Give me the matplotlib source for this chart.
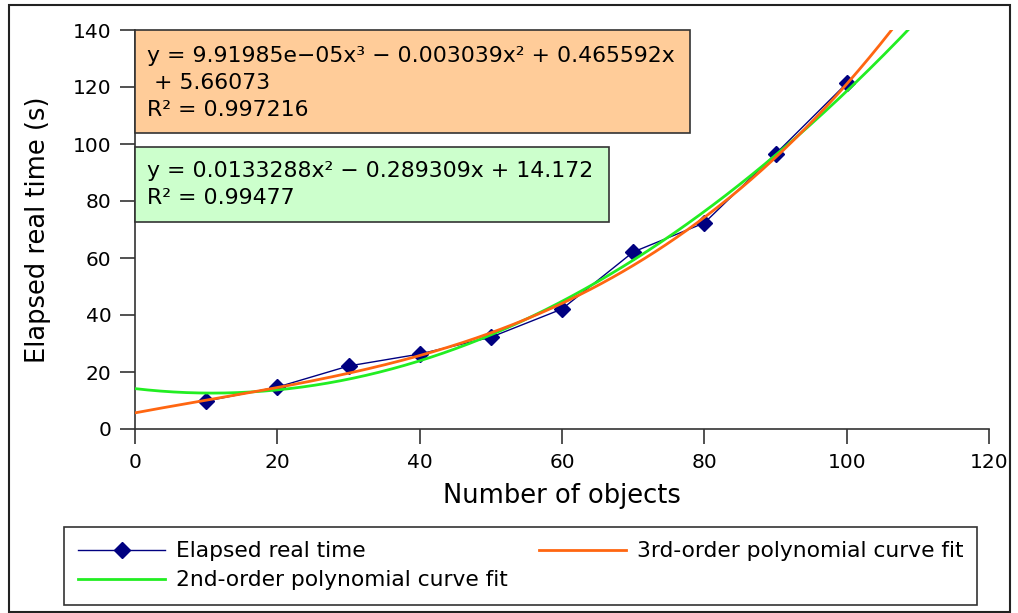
import matplotlib
matplotlib.use("Agg")
import matplotlib.pyplot as plt
import numpy as np
from matplotlib.patches import Rectangle

# datos
n_objetos = [10, 20, 30, 40, 50, 60, 70, 80, 90, 100]
tiempo_real = [9.8, 14.7, 22.1, 26.3, 32.2, 42.1, 62.1, 72.3, 96.5, 121.3]

# coeficientes de los ajustes (del texto de la figura)
coef_3 = [9.91985e-05, -0.003039, 0.465592, 5.66073]
coef_2 = [0.0133288, -0.289309, 14.172]

W, H = 1018, 613

def fx(px):
    return px / W

def fy(py):
    return 1 - py / H

plt.rcParams['font.family'] = ['DejaVu Sans']

fig = plt.figure(figsize=(W / 100, H / 100), dpi=100)
ax = fig.add_axes([fx(135), fy(429), fx(989) - fx(135), fy(30) - fy(429)])

x_fit = np.linspace(0, 120, 400)
h1, = ax.plot(n_objetos, tiempo_real, color='#000080', lw=1, marker='D', ms=8.5,
              label='Elapsed real time', zorder=3)
l2, = ax.plot(x_fit, np.polyval(coef_2, x_fit), color='#22ee22', lw=2,
              label='2nd-order polynomial curve fit', zorder=4)
l3, = ax.plot(x_fit, np.polyval(coef_3, x_fit), color='#ff6611', lw=2,
              label='3rd-order polynomial curve fit', zorder=4)

ax.set_xlim(0, 120)
ax.set_ylim(0, 140)
ax.set_xticks(range(0, 121, 20))
ax.set_yticks(range(0, 141, 20))
ax.spines['top'].set_visible(False)
ax.spines['right'].set_visible(False)
for s in ['left', 'bottom']:
    ax.spines[s].set_color('#333333')
    ax.spines[s].set_linewidth(1.2)
ax.tick_params(direction='out', length=11, width=1.2, color='#333333',
               labelsize=14.5, pad=6)
ax.set_xlabel('Number of objects', fontsize=18.5)
ax.set_ylabel('Elapsed real time (s)', fontsize=18.5)
ax.xaxis.set_label_coords(0.5, -0.135)
ax.yaxis.set_label_coords(-0.098, 0.5)

# cajas con las ecuaciones
fig.patches.append(Rectangle((fx(135), fy(133)), fx(690) - fx(135), fy(30) - fy(133),
                             transform=fig.transFigure, facecolor='#ffcc99',
                             edgecolor='#333333', lw=1.2, zorder=5))
fig.patches.append(Rectangle((fx(135), fy(222)), fx(609) - fx(135), fy(147) - fy(222),
                             transform=fig.transFigure, facecolor='#ccffcc',
                             edgecolor='#333333', lw=1.2, zorder=5))
txt = dict(fontsize=15.8, va='center', ha='left', zorder=6)
fig.text(fx(147), fy(56), 'y = 9.91985e\u221205x\u00b3 \u2212 0.003039x\u00b2 + 0.465592x', **txt)
fig.text(fx(147), fy(83), ' + 5.66073', **txt)
fig.text(fx(147), fy(110), 'R\u00b2 = 0.997216', **txt)
fig.text(fx(147), fy(171), 'y = 0.0133288x\u00b2 \u2212 0.289309x + 14.172', **txt)
fig.text(fx(147), fy(198), 'R\u00b2 = 0.99477', **txt)

# leyenda
leg = fig.legend([h1, l2, l3],
                 ['Elapsed real time', '2nd-order polynomial curve fit',
                  '3rd-order polynomial curve fit'],
                 loc='upper left', ncol=2,
                 bbox_to_anchor=(fx(64), fy(527)),
                 fontsize=15.7, handlelength=4.0, handletextpad=0.5,
                 columnspacing=1.4, fancybox=False, framealpha=1,
                 borderaxespad=0, labelspacing=0.42, borderpad=0.65)
leg.get_frame().set_edgecolor('#333333')
leg.get_frame().set_linewidth(1.2)

# marco exterior
fig.patches.append(Rectangle((fx(9), fy(612)), fx(1010) - fx(9), fy(5) - fy(612),
                             transform=fig.transFigure, fill=False,
                             edgecolor='#222222', lw=1.5))

fig.savefig('out.png', dpi=100)
